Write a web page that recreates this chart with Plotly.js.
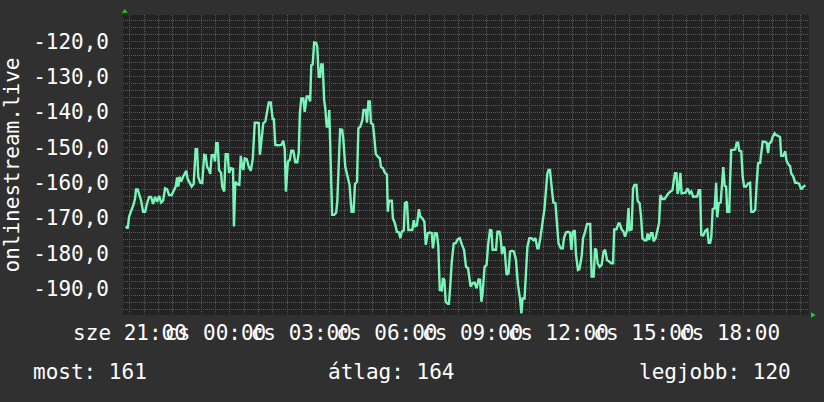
<!DOCTYPE html>
<html>
<head>
<meta charset="utf-8">
<script src="https://cdn.plot.ly/plotly-3.0.1.min.js"></script>
<style>
  html, body { margin: 0; padding: 0; background: #303030; }
  #chart { width: 824px; height: 402px; }
</style>
</head>
<body>
<div id="chart"></div>
<script>
// Time in hours after "sze 21:00"
const timeHours = [
-0.15,-0.08,-0.03,0.04,0.12,0.18,0.21,0.27,0.32,0.39,0.46,0.53,0.60,0.67,0.74,0.81,0.88,0.95,1.02,1.09,
1.16,1.23,1.30,1.37,1.46,1.53,1.60,1.65,1.69,1.74,1.79,1.86,1.93,1.97,2.02,2.09,2.16,2.23,2.30,2.35,
2.39,2.46,2.53,2.60,2.65,2.70,2.77,2.81,2.86,2.93,2.98,3.02,3.07,3.12,3.19,3.23,3.30,3.35,3.42,3.47,
3.54,3.61,3.64,3.69,3.76,3.83,3.88,3.92,3.97,4.02,4.09,4.16,4.23,4.30,4.37,4.44,4.51,4.55,4.60,4.67,
4.74,4.79,4.86,4.93,5.00,5.04,5.09,5.16,5.23,5.30,5.37,5.42,5.46,5.53,5.60,5.65,5.72,5.79,5.86,5.91,
5.95,6.00,6.07,6.12,6.19,6.26,6.31,6.35,6.40,6.45,6.52,6.56,6.61,6.66,6.70,6.75,6.80,6.84,6.89,6.94,
6.98,7.03,7.08,7.15,7.22,7.26,7.31,7.36,7.43,7.47,7.54,7.62,7.69,7.76,7.83,7.88,7.95,8.00,8.07,8.14,
8.18,8.26,8.30,8.35,8.40,8.44,8.51,8.56,8.61,8.68,8.75,8.79,8.86,8.93,9.00,9.03,9.07,9.17,9.21,9.28,
9.35,9.42,9.47,9.52,9.59,9.63,9.70,9.75,9.82,9.89,9.94,9.98,10.05,10.12,10.17,10.24,10.31,10.36,10.43,10.50,
10.57,10.61,10.68,10.75,10.80,10.85,10.92,10.96,11.01,11.06,11.13,11.17,11.22,11.27,11.34,11.41,11.48,11.55,11.63,11.70,
11.77,11.84,11.89,11.93,12.00,12.07,12.14,12.21,12.26,12.31,12.35,12.42,12.49,12.54,12.61,12.66,12.70,12.77,12.82,12.87,
12.94,12.98,13.03,13.08,13.12,13.19,13.26,13.31,13.38,13.45,13.52,13.59,13.66,13.71,13.75,13.82,13.87,13.92,13.99,14.06,
14.13,14.20,14.27,14.31,14.38,14.45,14.52,14.57,14.62,14.66,14.71,14.78,14.83,14.90,14.94,15.01,15.09,15.16,15.20,15.27,
15.34,15.41,15.46,15.51,15.58,15.62,15.69,15.74,15.82,15.87,15.94,16.01,16.08,16.12,16.17,16.24,16.29,16.33,16.38,16.45,
16.52,16.59,16.64,16.71,16.78,16.85,16.92,16.96,17.04,17.11,17.15,17.22,17.29,17.34,17.41,17.46,17.50,17.57,17.62,17.67,
17.74,17.78,17.85,17.90,17.95,18.02,18.09,18.13,18.18,18.25,18.30,18.34,18.41,18.48,18.53,18.58,18.65,18.72,18.79,18.86,
18.93,19.00,19.04,19.09,19.14,19.18,19.23,19.28,19.32,19.39,19.46,19.53,19.60,19.66,19.73,19.80,19.87,19.92,19.97,20.01,
20.08,20.15,20.22,20.27,20.32,20.36,20.41,20.48,20.53,20.57,20.62,20.69,20.74,20.78,20.83,20.88,20.92,20.99,21.02,21.06,
21.13,21.20,21.25,21.30,21.34,21.41,21.46,21.51,21.58,21.65,21.72,21.76,21.83,21.90,21.95,22.00,22.07,22.11,22.16,22.23,
22.30,22.35,22.39,22.46,22.51,22.58,22.63,22.70,22.77,22.81,22.88,22.95,23.00,23.07,23.12,23.16,23.23,23.30,23.37,23.44,
23.51,23.59,23.66
];

const signal = [
-172.4,-172.9,-169.6,-168.2,-166.3,-164.4,-161.9,-161.9,-163.5,-165.1,-168.2,-168.2,-165.8,-164.0,-164.0,-166.0,-164.0,-165.4,-163.7,-165.6,
-165.1,-161.6,-161.9,-163.5,-163.5,-162.1,-161.1,-158.5,-161.1,-158.3,-159.7,-158.3,-157.2,-156.6,-159.0,-160.0,-161.1,-160.4,-150.5,-150.5,
-158.3,-160.0,-160.1,-152.1,-152.2,-155.5,-156.4,-157.5,-152.2,-152.1,-154.0,-148.8,-148.8,-156.4,-157.2,-161.1,-162.5,-151.9,-151.9,-157.2,
-155.9,-156.1,-172.4,-159.7,-160.4,-160.6,-152.4,-155.0,-156.4,-153.1,-153.3,-155.5,-156.6,-153.3,-143.0,-143.0,-143.1,-152.1,-147.4,-143.1,
-142.7,-140.2,-137.3,-137.3,-142.0,-142.0,-149.3,-149.4,-149.4,-149.3,-148.1,-150.5,-162.5,-154.0,-153.5,-150.9,-150.9,-154.2,-154.2,-151.5,
-140.3,-136.1,-136.1,-139.9,-135.6,-135.6,-137.0,-126.7,-126.5,-120.3,-120.4,-121.5,-130.0,-130.0,-126.5,-126.5,-136.6,-138.9,-144.1,-144.1,
-139.4,-158.3,-169.1,-169.1,-168.5,-165.4,-156.4,-144.9,-145.0,-147.4,-155.5,-158.1,-160.6,-168.2,-168.2,-160.4,-159.7,-144.6,-144.1,-142.2,
-139.4,-139.4,-143.0,-137.0,-137.0,-143.1,-143.5,-147.4,-151.9,-152.6,-153.1,-155.5,-155.9,-157.2,-157.7,-168.2,-165.1,-165.1,-170.1,-171.5,
-173.9,-174.1,-175.7,-173.9,-173.5,-165.8,-165.4,-173.4,-173.4,-173.4,-170.6,-172.3,-172.1,-167.5,-169.6,-170.1,-171.0,-177.6,-174.3,-174.1,
-174.3,-178.6,-174.3,-174.4,-178.1,-190.4,-190.5,-187.1,-187.5,-193.7,-194.3,-194.3,-189.0,-182.4,-177.2,-177.1,-176.0,-175.7,-177.6,-179.0,
-183.8,-184.2,-187.1,-189.4,-188.5,-188.3,-189.9,-187.4,-187.5,-193.7,-191.3,-183.8,-183.3,-177.9,-173.4,-173.5,-179.0,-179.0,-179.0,-173.9,
-173.9,-175.3,-180.2,-178.1,-178.6,-186.1,-185.6,-179.5,-179.3,-179.5,-181.9,-189.0,-192.8,-197.0,-192.8,-192.8,-186.1,-178.1,-175.7,-175.7,
-176.3,-175.7,-178.6,-178.6,-175.3,-171.3,-167.2,-162.1,-157.3,-156.4,-156.4,-162.1,-165.6,-165.8,-171.0,-177.2,-178.6,-178.6,-175.7,-174.1,
-173.9,-174.1,-179.0,-173.9,-173.5,-180.2,-184.7,-184.5,-180.9,-175.7,-173.9,-171.7,-171.7,-171.7,-186.6,-186.6,-178.6,-179.0,-182.8,-183.8,
-183.3,-179.5,-179.0,-181.9,-182.3,-182.8,-182.8,-173.2,-173.2,-171.5,-171.5,-173.2,-173.9,-175.3,-173.4,-167.2,-173.4,-173.2,-161.6,-160.6,
-160.6,-165.1,-165.8,-169.6,-175.7,-176.3,-176.3,-174.4,-176.2,-174.3,-174.3,-176.6,-175.7,-173.4,-171.5,-163.5,-164.6,-164.6,-163.7,-163.0,
-162.5,-162.1,-159.7,-157.3,-157.3,-163.2,-161.6,-157.2,-163.0,-163.0,-162.8,-161.6,-163.0,-162.5,-164.0,-163.9,-163.9,-162.1,-162.1,-174.8,
-174.9,-173.6,-173.2,-177.0,-177.0,-175.6,-167.5,-167.2,-160.0,-169.8,-165.8,-165.6,-158.3,-155.6,-160.9,-161.1,-168.2,-168.2,-159.2,-150.7,
-150.7,-150.6,-148.7,-148.7,-150.9,-151.1,-158.3,-161.1,-161.1,-160.2,-160.0,-168.2,-168.2,-167.7,-160.2,-154.5,-154.4,-150.7,-148.4,-148.4,
-148.7,-151.6,-148.9,-148.4,-147.0,-146.0,-146.5,-146.7,-147.1,-152.4,-152.4,-151.1,-153.9,-154.9,-155.3,-157.4,-158.2,-160.0,-160.0,-160.4,
-161.9,-161.1,-160.7
];

// Axis ticks
const xTickHours  = [0, 3, 6, 9, 12, 15, 18, 21];
const xTickLabels = ['sze 21:00', 'cs 00:00', 'cs 03:00', 'cs 06:00', 'cs 09:00', 'cs 12:00', 'cs 15:00', 'cs 18:00'];
const yTickValues = [-190, -180, -170, -160, -150, -140, -130, -120];
const yTickLabels = ['-190,0', '-180,0', '-170,0', '-160,0', '-150,0', '-140,0', '-130,0', '-120,0'];

// Legend line
const legendNames  = ['most', 'átlag', 'legjobb'];
const legendValues = [161, 164, 120];

const yTitle = 'onlinestream.live';

// Hourly major grid, labels every 3 hours
const hourVals = [];
const hourText = [];
for (let h = 0; h <= 23; h++) {
  hourVals.push(h);
  const k = xTickHours.indexOf(h);
  hourText.push(k >= 0 ? xTickLabels[k] : '');
}

const FONT = 'DejaVu Sans Mono, monospace';
const FS = 21;
const majorGrid = '#8c3c3c';
const minorGrid = '#5c5c5c';

const trace = {
  type: 'scatter',
  mode: 'lines',
  x: timeHours,
  y: signal,
  line: { color: '#7af4b8', width: 2.4 },
  hoverinfo: 'skip'
};

const legendX = [-0.1345, 0.2965, 0.7495];
const annotations = legendNames.map((n, i) => ({
  xref: 'paper', yref: 'paper',
  x: legendX[i], y: -0.19,
  xanchor: 'left', yanchor: 'middle',
  text: n + ': ' + legendValues[i],
  showarrow: false,
  font: { family: FONT, size: FS, color: '#ffffff' }
}));

const layout = {
  width: 824, height: 402,
  margin: { l: 123, r: 15, t: 15, b: 87, pad: 0 },
  paper_bgcolor: '#303030',
  plot_bgcolor: '#222222',
  showlegend: false,
  xaxis: {
    range: [-0.245, 23.783],
    tickmode: 'array',
    tickvals: hourVals,
    ticktext: hourText,
    tickangle: 0,
    ticks: '',
    ticklabelstandoff: 3,
    showgrid: true,
    gridcolor: majorGrid,
    gridwidth: 1,
    griddash: '1px,1px',
    minor: { dtick: 0.5, tick0: 0, showgrid: true, gridcolor: minorGrid, gridwidth: 1, griddash: '1px,1px', ticks: '' },
    zeroline: false,
    showline: false,
    tickfont: { family: FONT, size: FS, color: '#ffffff' },
    fixedrange: true
  },
  yaxis: {
    range: [-197.46, -112.5],
    tickmode: 'array',
    tickvals: yTickValues,
    ticktext: yTickLabels,
    ticks: '',
    ticklabelstandoff: 13,
    showgrid: true,
    gridcolor: majorGrid,
    gridwidth: 1,
    griddash: '1px,1px',
    minor: { dtick: 2, tick0: 0, showgrid: true, gridcolor: minorGrid, gridwidth: 1, griddash: '1px,1px', ticks: '' },
    zeroline: false,
    showline: false,
    tickfont: { family: FONT, size: FS, color: '#ffffff' },
    title: { text: yTitle, font: { family: FONT, size: FS, color: '#ffffff' }, standoff: 9 },
    automargin: false,
    fixedrange: true
  },
  annotations: annotations,
  shapes: [
    { type: 'path', xref: 'paper', yref: 'paper', path: 'M -0.0019,1.0077 L 0.0069,1.0077 L 0.0025,1.02 Z', fillcolor: '#22cc22', line: { width: 0 } },
    { type: 'path', xref: 'paper', yref: 'paper', path: 'M 1.0029,0.009 L 1.0029,-0.009 L 1.0098,0 Z', fillcolor: '#22cc22', line: { width: 0 } }
  ]
};

Plotly.newPlot('chart', [trace], layout, { displayModeBar: false, staticPlot: true });
</script>
</body>
</html>
